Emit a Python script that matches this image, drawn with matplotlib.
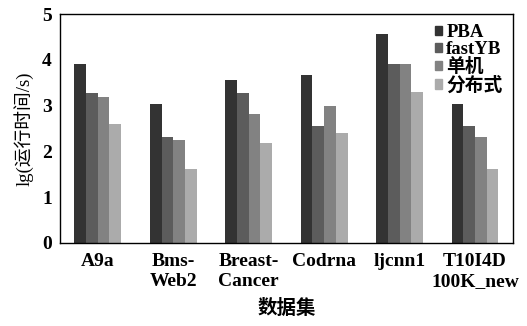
# Running time of the four methods on each data set (log scale)

import numpy as np
import matplotlib.pyplot as plt
from matplotlib.patches import Patch

plt.rcParams['font.family'] = ['Liberation Serif', 'Noto Sans CJK SC']
plt.rcParams['font.weight'] = 'bold'

datasets = ['A9a', 'Bms-\nWeb2', 'Breast-\nCancer', 'Codrna', 'ljcnn1', 'T10I4D\n100K_new']
methods = ['PBA', 'fastYB', '单机', '分布式']
colors = ['#333333', '#5c5c5c', '#828282', '#ababab']

pba = [3.90, 3.03, 3.56, 3.67, 4.56, 3.04]
fastyb = [3.27, 2.31, 3.27, 2.55, 3.90, 2.55]
single = [3.19, 2.25, 2.82, 2.99, 3.90, 2.31]
distributed = [2.59, 1.62, 2.19, 2.40, 3.30, 1.62]
series = [pba, fastyb, single, distributed]

fig = plt.figure(figsize=(5.27, 3.26), dpi=100)
ax = fig.add_axes([0.114, 0.255, 0.859, 0.702])

x = np.arange(len(datasets))
width = 0.155
for i, (vals, c) in enumerate(zip(series, colors)):
    ax.bar(x + (i - 1.5) * width, vals, width, color=c, linewidth=0)

ax.set_xlim(-0.5, 5.5)
ax.set_ylim(0, 5)
ax.set_xticks(x)
ax.set_xticklabels(datasets, fontsize=14, linespacing=1.3)
ax.set_yticks(range(6))
ax.tick_params(axis='y', labelsize=14, length=0, pad=6)
ax.tick_params(axis='x', length=0, pad=7)
for s in ax.spines.values():
    s.set_linewidth(1.0)

ax.set_ylabel('lg(运行时间/s)', fontsize=13.5, fontweight='normal', labelpad=6)
ax.set_xlabel('数据集', fontsize=14, fontweight='bold', labelpad=6)

handles = [Patch(color=c, label=m) for m, c in zip(methods, colors)]
ax.legend(handles=handles, loc='upper right', bbox_to_anchor=(1.0, 1.0), frameon=False,
          fontsize=13.5, handlelength=0.4, handleheight=0.4, handletextpad=0.2,
          labelspacing=0.0, borderaxespad=0.15)

fig.savefig('out.png', dpi=100)
